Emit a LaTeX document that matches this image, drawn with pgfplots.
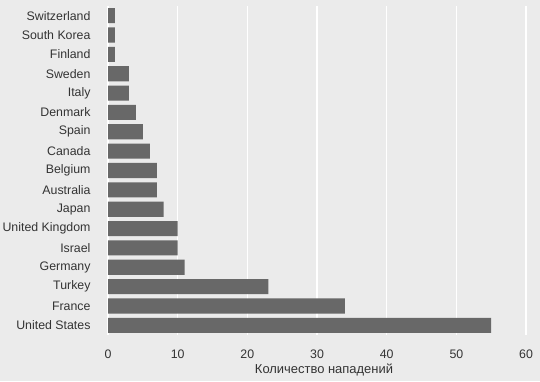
\documentclass[border=0pt]{standalone}
\usepackage{pgfplots}
\pgfplotsset{compat=1.18}
\usepackage{fontspec}
\setmainfont{Liberation Sans}
\definecolor{bg}{HTML}{EBEBEB}
\definecolor{bar}{HTML}{686868}
\definecolor{txt}{HTML}{333333}
\begin{document}
\begin{tikzpicture}[x=1bp,y=1bp]
\fill[bg, use as bounding box] (0,0) rectangle (540,381);
\begin{axis}[
  at={(108bp,46bp)}, anchor=south west,
  scale only axis, width=432bp, height=329bp,
  xmin=0, xmax=62, ymin=-0.5, ymax=16.5,
  axis background/.style={fill=bg},
  axis line style={draw=none},
  major tick length=0pt,
  xtick={0,10,20,30,40,50,60},
  xmajorgrids, grid style={white, line width=1.2bp},
  ytick={0,...,16},
  yticklabels={United States,France,Turkey,Germany,Israel,United Kingdom,Japan,Australia,Belgium,Canada,Spain,Denmark,Italy,Sweden,Finland,South Korea,Switzerland},
  ticklabel style={font=\fontsize{12.4}{14}\selectfont, text=txt},
  yticklabel style={xshift=-14bp},
  xticklabel style={yshift=-11bp},
  /pgf/number format/assume math mode=true,
  xlabel={Количество нападений},
  xlabel style={font=\fontsize{13}{15}\selectfont, text=txt, yshift=1bp},
]
\addplot[xbar, fill=bar, draw=none, bar width=0.78] coordinates {
(55,0) (34,1) (23,2) (11,3) (10,4) (10,5) (8,6) (7,7) (7,8) (6,9) (5,10) (4,11) (3,12) (3,13) (1,14) (1,15) (1,16)
};
\end{axis}
\end{tikzpicture}
\end{document}
